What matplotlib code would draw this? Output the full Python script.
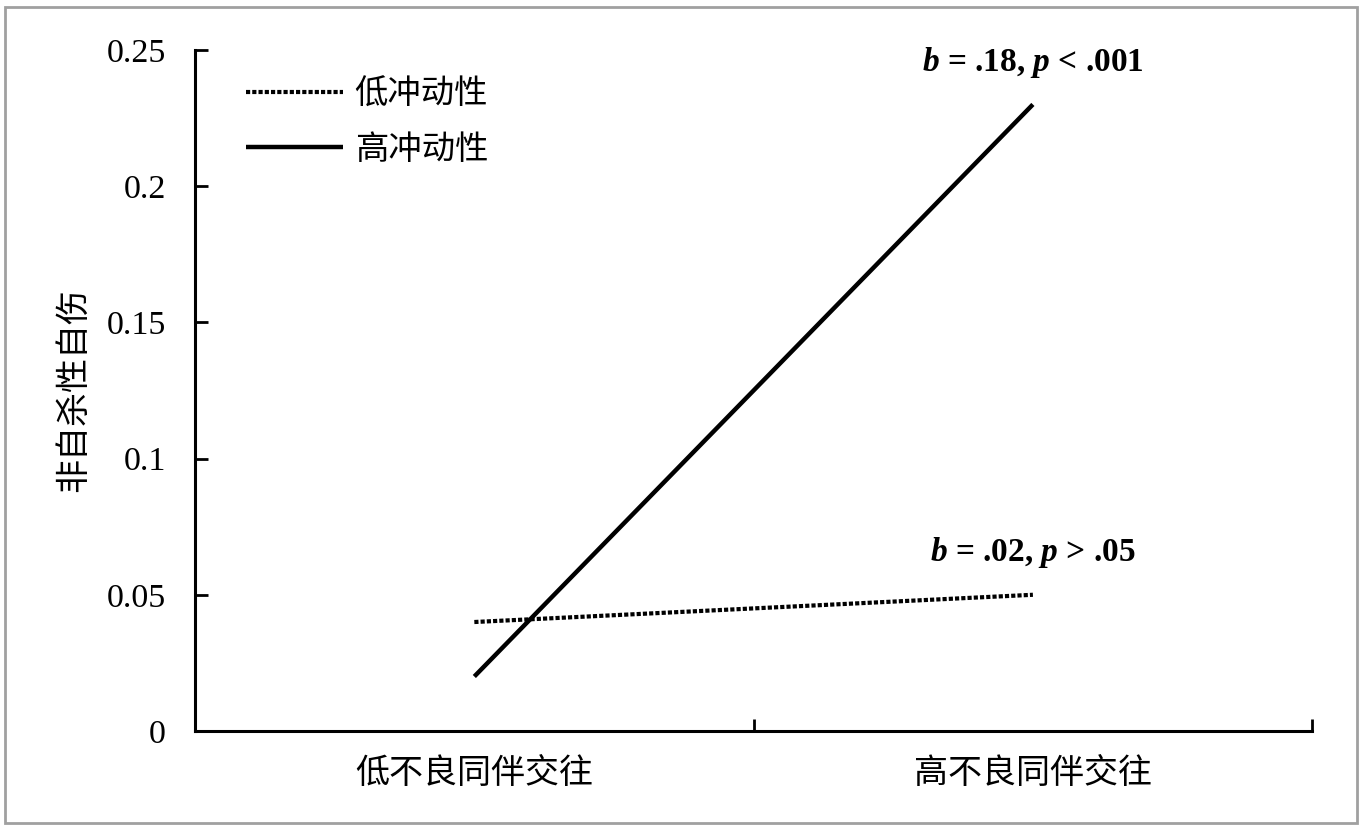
import matplotlib
matplotlib.use("Agg")
import matplotlib.pyplot as plt
from matplotlib.patches import Rectangle

# data
categories = ["低不良同伴交往", "高不良同伴交往"]
low_impulse = [0.04, 0.05]
high_impulse = [0.02, 0.23]
series_names = ["低冲动性", "高冲动性"]
y_ticks = [0, 0.05, 0.1, 0.15, 0.2, 0.25]
y_tick_labels = ["0", "0.05", "0.1", "0.15", "0.2", "0.25"]
notes = [r"$b$ = .18, $p$ < .001", r"$b$ = .02, $p$ > .05"]
note_y = [0.2455, 0.0655]

cjk = ["Noto Sans CJK SC", "DejaVu Sans"]
serif = ["Liberation Serif", "DejaVu Serif"]

plt.rcParams["mathtext.fontset"] = "custom"
plt.rcParams["mathtext.rm"] = "Liberation Serif:bold"
plt.rcParams["mathtext.it"] = "Liberation Serif:italic:bold"


def main():
    fig = plt.figure(figsize=(13.64, 8.30), dpi=100)
    ax = fig.add_axes([0.143, 0.1193, 0.819, 0.8205])

    x = list(range(len(categories)))
    ax.plot(x, low_impulse, color="black", lw=3.0, linestyle=(0, (1, 0.5)),
            solid_capstyle="butt", dash_capstyle="butt", label=series_names[0])
    ax.plot(x, high_impulse, color="black", lw=3.2, solid_capstyle="butt",
            label=series_names[1])

    ax.set_xlim(-0.5, 1.5)
    ax.set_ylim(0, 0.25)
    ax.set_yticks(y_ticks)
    ax.set_yticklabels(y_tick_labels, family=serif, fontsize=24.5)
    ax.set_xticks(x)
    ax.set_xticklabels(categories, family=cjk, fontsize=24.5)
    ax.tick_params(axis="x", which="major", length=0, pad=18)
    ax.set_xticks([-0.5, 0.5, 1.5], minor=True)
    ax.tick_params(axis="x", which="minor", direction="in", length=9, width=2)
    ax.tick_params(axis="y", direction="in", length=9, width=2, pad=21)

    for side in ["top", "right"]:
        ax.spines[side].set_visible(False)
    for side in ["left", "bottom"]:
        ax.spines[side].set_linewidth(2.2)

    ax.set_ylabel("非自杀性自伤", family=cjk, fontsize=24.5, labelpad=11)

    for txt, yv in zip(notes, note_y):
        ax.text(1.0, yv, txt, ha="center", va="center", fontsize=24,
                family=serif, fontweight="bold")

    ax.legend(loc="upper left", bbox_to_anchor=(0.019, 1.005), frameon=False,
              prop={"family": cjk, "size": 24}, handlelength=2.9,
              handletextpad=0.35, labelspacing=0.6)

    fig.patches.append(Rectangle((0.004, 0.009), 0.991, 0.982, transform=fig.transFigure,
                                 fill=False, edgecolor="#a0a0a0", lw=2))

    fig.savefig("out.png", dpi=100)


if __name__ == "__main__":
    main()
